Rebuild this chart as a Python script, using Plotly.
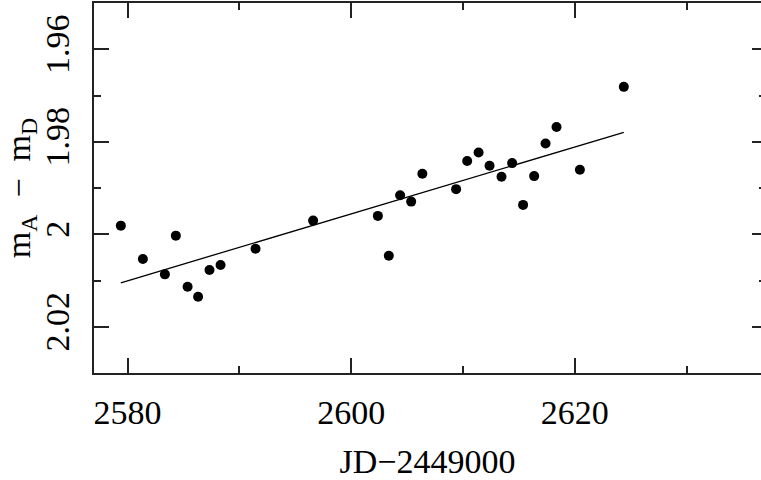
import plotly.graph_objects as go

# Data
jd = [2579.40, 2581.37, 2583.34, 2584.32, 2585.37, 2586.31, 2587.33, 2588.32,
      2591.45, 2596.60, 2602.39, 2603.37, 2604.38, 2605.37, 2606.37, 2609.39,
      2610.38, 2611.40, 2612.38, 2613.45, 2614.40, 2615.38, 2616.37, 2617.39,
      2618.37, 2620.46, 2624.39]
dmag = [1.99814, 2.00535, 2.00867, 2.00030, 2.01135, 2.01352, 2.00774, 2.00665,
        2.00312, 1.99705, 1.99603, 2.00464, 1.99155, 1.99294, 1.98693, 1.99025,
        1.98418, 1.98232, 1.98520, 1.98758, 1.98462, 1.99365, 1.98743, 1.98037,
        1.97681, 1.98607, 1.96813]
fit_x = [2579.40, 2624.39]
fit_y = [2.01049, 1.97798]

x_tickvals = [2580, 2600, 2620]
x_ticktext = ["2580", "2600", "2620"]
y_tickvals = [1.96, 1.98, 2.00, 2.02]
y_ticktext = ["1.96", "1.98", "2", "2.02"]

FONT = "Liberation Serif"
INK = "#222222"

fig = go.Figure()
fig.add_trace(go.Scatter(x=jd, y=dmag, mode="markers",
                         marker=dict(color="black", size=10, line=dict(width=0)),
                         showlegend=False))
fig.add_trace(go.Scatter(x=fit_x, y=fit_y, mode="lines", yaxis="y2",
                         line=dict(color="black", width=1.3),
                         showlegend=False))

fig.update_layout(
    width=761, height=480,
    margin=dict(l=94, r=0, t=3, b=107, autoexpand=False),
    paper_bgcolor="white", plot_bgcolor="white",
    font=dict(family=FONT, size=34, color="black"),
    xaxis=dict(range=[2577.0, 2636.66], showgrid=False, zeroline=False,
               automargin=False,
               showline=True, linecolor=INK, linewidth=1.5, mirror="ticks",
               ticks="inside", ticklen=15, tickwidth=1.5, tickcolor=INK,
               tickvals=x_tickvals, ticktext=x_ticktext,
               ticklabelstandoff=8,
               minor=dict(dtick=10, tick0=2580, ticks="inside", ticklen=7,
                          tickwidth=1.5, tickcolor=INK),
               title=dict(text="JD\u22122449000", standoff=30,
                          font=dict(family=FONT, size=34))),
    yaxis=dict(range=[2.03, 1.95], showgrid=False, zeroline=False,
               automargin=False,
               showline=True, linecolor=INK, linewidth=1.5, mirror=False,
               ticks="inside", ticklen=15, tickwidth=1.5, tickcolor=INK,
               tickvals=y_tickvals, ticktext=y_ticktext, tickangle=-90,
               ticklabelstandoff=10,
               minor=dict(dtick=0.01, tick0=1.96, ticks="inside", ticklen=7,
                          tickwidth=1.5, tickcolor=INK),
               title=dict(text="m<sub>A</sub>\u00a0\u00a0\u2212\u00a0\u00a0m<sub>D</sub>",
                          standoff=2, font=dict(family=FONT, size=34))),
    yaxis2=dict(range=[2.03, 1.95], overlaying="y", side="right", anchor="x",
                showgrid=False, zeroline=False, showline=False, automargin=False,
                showticklabels=False,
                ticks="inside", ticklen=9, tickwidth=1.5, tickcolor=INK,
                tickvals=y_tickvals,
                minor=dict(dtick=0.01, tick0=1.96, ticks="inside", ticklen=2,
                           tickwidth=1.5, tickcolor=INK)),
)

fig.write_html(
    "out.html",
    config={"displayModeBar": False},
    post_script="document.body.style.margin='0';"
                "document.documentElement.style.overflow='hidden';"
                "document.body.style.overflow='hidden';",
)
